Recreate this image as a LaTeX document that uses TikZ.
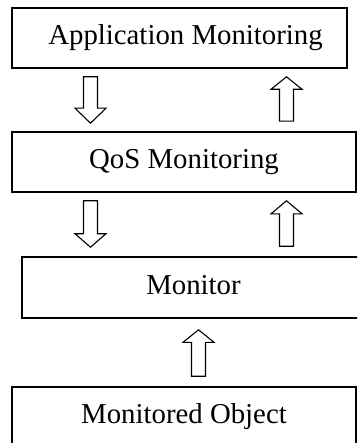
\documentclass[tikz,border=0pt]{standalone}
\usepackage{fontspec}
\setmainfont{Liberation Serif}
\usetikzlibrary{calc}
\tikzset{
  boxnode/.style={draw, line width=1.6pt, rectangle, inner sep=0pt,
    font=\fontsize{28.8}{34}\selectfont, text height=20pt, text depth=7pt},
  blk/.style={draw, line width=1.1pt, line join=miter, fill=white}
}
\newcommand\blkdown[3]{% start, tip, head length
  \draw[blk] ($(#1)+(-7,0)$) -- ($(#2)+(-7,-#3)$) -- ($(#2)+(-15.5,-#3)$) -- (#2)
    -- ($(#2)+(15.5,-#3)$) -- ($(#2)+(7,-#3)$) -- ($(#1)+(7,0)$) -- cycle;}
\newcommand\blkup[3]{% start (bottom), tip, head length
  \draw[blk] ($(#1)+(-7,0)$) -- ($(#2)+(-7,#3)$) -- ($(#2)+(-15.5,#3)$) -- (#2)
    -- ($(#2)+(15.5,#3)$) -- ($(#2)+(7,#3)$) -- ($(#1)+(7,0)$) -- cycle;}
\begin{document}
\begin{tikzpicture}[x=1pt,y=-1pt]
\useasboundingbox (0,0) rectangle (357,443);
\clip (0,0) rectangle (357,443);
\node[boxnode, minimum width=335pt, minimum height=60pt] (B1) at (179.5,38) {\hspace*{12pt}Application Monitoring};
\node[boxnode, minimum width=344pt, minimum height=60pt] (B2) at (184,162) {QoS Monitoring};
\node[boxnode, minimum width=343pt, minimum height=61pt] (B3) at (193.5,287.5) {Monitor};
\node[boxnode, minimum width=344pt, minimum height=59pt] (B4) at (184,416.5) {Monitored Object};
% connectors
\path (B1.south -| 90.5,0) ++(0,8) coordinate (d1s);
\path (B2.north -| 90.5,0) ++(0,-8) coordinate (d1t);
\path (B2.north -| 286.5,0) ++(0,-10) coordinate (u1s);
\path (B1.south -| 286.5,0) ++(0,8) coordinate (u1t);
\path (B2.south -| 90.5,0) ++(0,8) coordinate (d2s);
\path (B3.north -| 90.5,0) ++(0,-9) coordinate (d2t);
\path (B3.north -| 286.5,0) ++(0,-10) coordinate (u2s);
\path (B2.south -| 286.5,0) ++(0,8) coordinate (u2t);
\path (B4.north -| 198.5,0) ++(0,-10) coordinate (u3s);
\path (B3.south -| 198.5,0) ++(0,11) coordinate (u3t);
\blkdown{d1s}{d1t}{15}
\blkup{u1s}{u1t}{12.5}
\blkdown{d2s}{d2t}{13.5}
\blkup{u2s}{u2t}{13}
\blkup{u3s}{u3t}{12.5}
\end{tikzpicture}
\end{document}
